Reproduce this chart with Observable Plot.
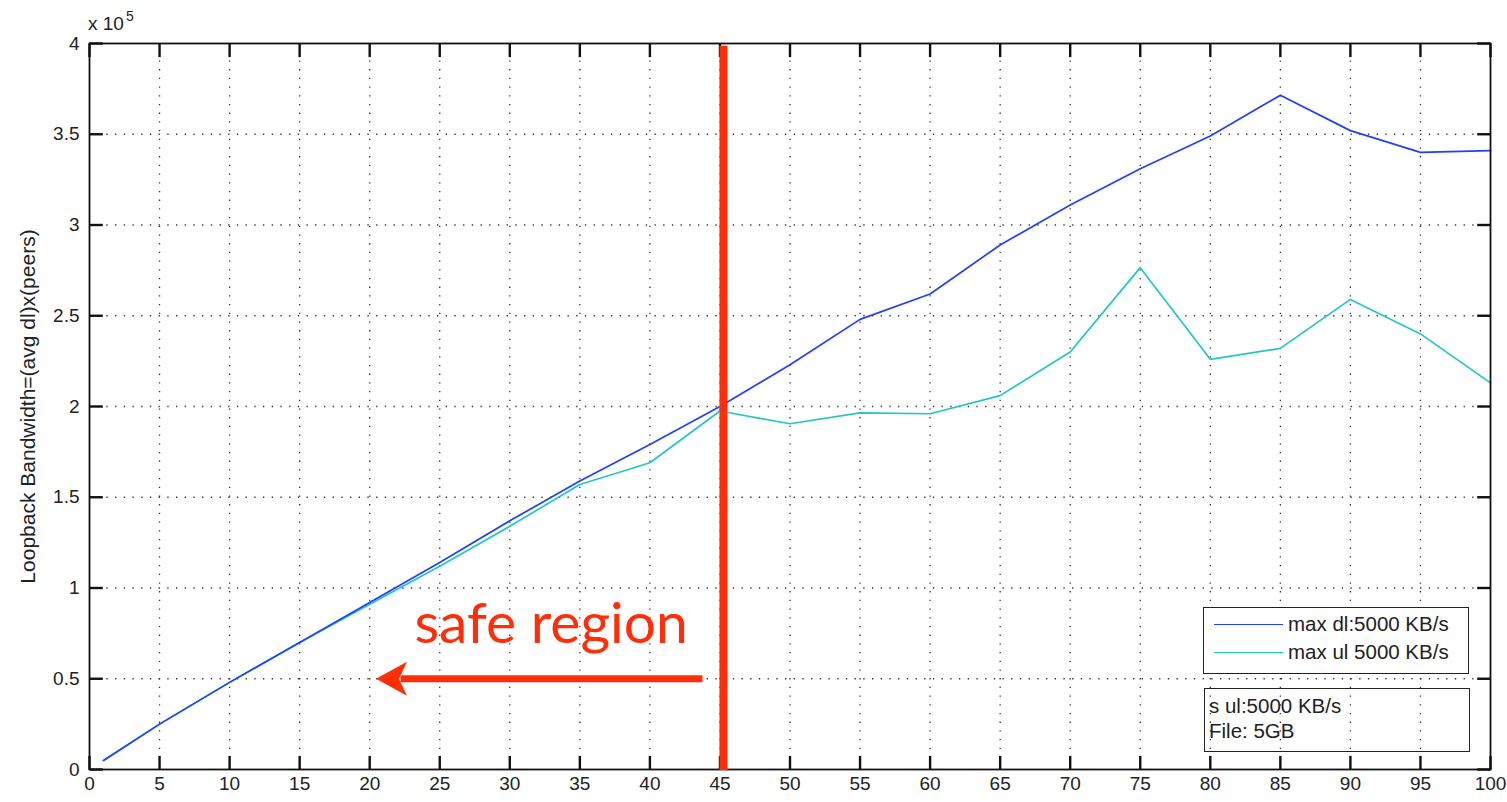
<!DOCTYPE html>
<html>
<head>
<meta charset="utf-8">
<script src="https://cdn.jsdelivr.net/npm/d3@7"></script>
<script src="https://cdn.jsdelivr.net/npm/@observablehq/plot@0.6"></script>
<style>
  html, body { margin: 0; padding: 0; background: #fff; }
  #wrap { position: relative; width: 1507px; height: 802px; font-family: "Liberation Sans", Arial, sans-serif; }
  #wrap svg { position: absolute; left: 0; top: 0; overflow: visible; }
  .exp { position: absolute; left: 88px; top: 10px; font-size: 19px; color: #222; }
  .exp sup { font-size: 14px; position: relative; top: -2px; margin-left: 2px; }
  .legend { position: absolute; left: 1203px; top: 607px; width: 264px; height: 65px; border: 1.5px solid #222; background: #fff; font-size: 20.5px; color: #222; }
  .legend .row { position: absolute; left: 10px; height: 24px; display: flex; align-items: center; }
  .legend .swatch { width: 69px; height: 0; border-top: 1.8px solid; margin-right: 5px; }
  .note { position: absolute; left: 1204px; top: 688px; width: 264px; height: 62px; border: 1.5px solid #222; font-size: 20.5px; color: #222; }
  .note div { position: absolute; left: 4px; }
</style>
</head>
<body>
<div id="wrap"></div>
<script>
// ---- data (bandwidth in units of 1e5) ----
const peers = [1, 5, 10, 15, 20, 25, 30, 35, 40, 45, 50, 55, 60, 65, 70, 75, 80, 85, 90, 95, 100];
const maxDl = [0.05, 0.25, 0.48, 0.70, 0.92, 1.14, 1.37, 1.59, 1.79, 2.00, 2.23, 2.48, 2.62, 2.89, 3.11, 3.31, 3.49, 3.715, 3.52, 3.40, 3.41];
const maxUl = [0.05, 0.25, 0.48, 0.70, 0.91, 1.12, 1.34, 1.57, 1.69, 1.975, 1.905, 1.965, 1.96, 2.06, 2.30, 2.765, 2.26, 2.32, 2.59, 2.40, 2.13];
const seriesNames = ["max dl:5000 KB/s", "max ul 5000 KB/s"];
const seriesColors = ["#1f40ff", "#22c6c6"];
const xTicks = [0, 5, 10, 15, 20, 25, 30, 35, 40, 45, 50, 55, 60, 65, 70, 75, 80, 85, 90, 95, 100];
const yTicks = [0, 0.5, 1, 1.5, 2, 2.5, 3, 3.5, 4];
const yTickLabels = ["0", "0.5", "1", "1.5", "2", "2.5", "3", "3.5", "4"];
const yLabel = "Loopback Bandwidth=(avg dl)x(peers)";
const noteLines = ["s ul:5000 KB/s", "File: 5GB"];
// annotation (data coordinates)
const safeLineX = [45.25];
const safeArrow = [{x1: 43.75, x2: 22.2, tip: 20.45, y: 0.5}];
const safeText = [{x: 32.95, y: 0.80, text: "safe region"}];

const red = "#ff2d08";
const dlRows = peers.map((p, i) => ({peers: p, bw: maxDl[i]}));
const ulRows = peers.map((p, i) => ({peers: p, bw: maxUl[i]}));
const xTickRows = xTicks.map(t => ({t, b0: 0, b1: 0.075, t0: 4, t1: 3.925}));
const yTickRows = yTicks.map(t => ({t, l0: 0, l1: 0.95, r0: 100, r1: 99.05}));

const arrowHead = {
  draw(ctx) {
    ctx.moveTo(0, 0);
    ctx.lineTo(31, -17);
    ctx.lineTo(23, 0);
    ctx.lineTo(31, 17);
    ctx.closePath();
  }
};

const gridStyle = {stroke: "#333", strokeOpacity: 1, strokeWidth: 1.3, strokeDasharray: "1.3,7.4"};
const tickStyle = {stroke: "#111", strokeWidth: 2.4, strokeOpacity: 1};

const chart = Plot.plot({
  width: 1507,
  height: 802,
  marginLeft: 89,
  marginRight: 17,
  marginTop: 43,
  marginBottom: 33,
  style: {fontFamily: "Liberation Sans, Arial, sans-serif", fontSize: "19px", color: "#222", background: "transparent"},
  x: {domain: [0, 100]},
  y: {domain: [0, 4]},
  marks: [
    Plot.gridX(xTicks.filter(d => d > 0 && d < 100), gridStyle),
    Plot.gridY(yTicks.filter(d => d > 0 && d < 4), gridStyle),
    Plot.axisX({ticks: xTicks, tickSize: 0, tickPadding: 7, fontSize: 19, tickFormat: d => String(d), label: null}),
    Plot.axisY({ticks: yTicks, tickSize: 0, tickPadding: 10, fontSize: 19, tickFormat: d => yTickLabels[yTicks.indexOf(d)], label: null}),
    Plot.text([yLabel], {frameAnchor: "left", rotate: -90, dx: -61, textAnchor: "middle", text: d => d, fontSize: 21, fill: "#222"}),
    // inward ticks on all four sides
    Plot.link(xTickRows, {x1: "t", x2: "t", y1: "b0", y2: "b1", ...tickStyle}),
    Plot.link(xTickRows, {x1: "t", x2: "t", y1: "t0", y2: "t1", ...tickStyle}),
    Plot.link(yTickRows, {y1: "t", y2: "t", x1: "l0", x2: "l1", ...tickStyle}),
    Plot.link(yTickRows, {y1: "t", y2: "t", x1: "r0", x2: "r1", ...tickStyle}),
    Plot.line(ulRows, {x: "peers", y: "bw", stroke: seriesColors[1], strokeWidth: 1.7}),
    Plot.line(dlRows, {x: "peers", y: "bw", stroke: seriesColors[0], strokeWidth: 1.7}),
    Plot.frame({stroke: "#111", strokeWidth: 1.8}),
    Plot.ruleX(safeLineX, {y1: () => -0.005, y2: () => 3.985, stroke: red, strokeWidth: 8}),
    Plot.link(safeArrow, {y1: "y", y2: "y", x1: "x1", x2: "x2", stroke: red, strokeWidth: 7}),
    Plot.dot(safeArrow, {x: "tip", y: "y", symbol: arrowHead, fill: red, stroke: "none", r: 10}),
    Plot.text(safeText, {x: "x", y: "y", text: "text", fill: red, fontSize: 57, fontFamily: "Lato, sans-serif", textAnchor: "middle"})
  ]
});

const wrap = document.getElementById("wrap");
wrap.appendChild(chart);

const exp = document.createElement("div");
exp.className = "exp";
exp.innerHTML = "x 10<sup>5</sup>";
wrap.appendChild(exp);

const legend = document.createElement("div");
legend.className = "legend";
seriesNames.forEach((name, i) => {
  const row = document.createElement("div");
  row.className = "row";
  row.style.top = (4 + i * 28) + "px";
  const sw = document.createElement("span");
  sw.className = "swatch";
  sw.style.borderTopColor = seriesColors[i];
  const t = document.createElement("span");
  t.textContent = name;
  row.appendChild(sw);
  row.appendChild(t);
  legend.appendChild(row);
});
wrap.appendChild(legend);

const note = document.createElement("div");
note.className = "note";
noteLines.forEach((line, i) => {
  const d = document.createElement("div");
  d.textContent = line;
  d.style.top = (5 + i * 25) + "px";
  note.appendChild(d);
});
wrap.appendChild(note);
</script>
</body>
</html>
